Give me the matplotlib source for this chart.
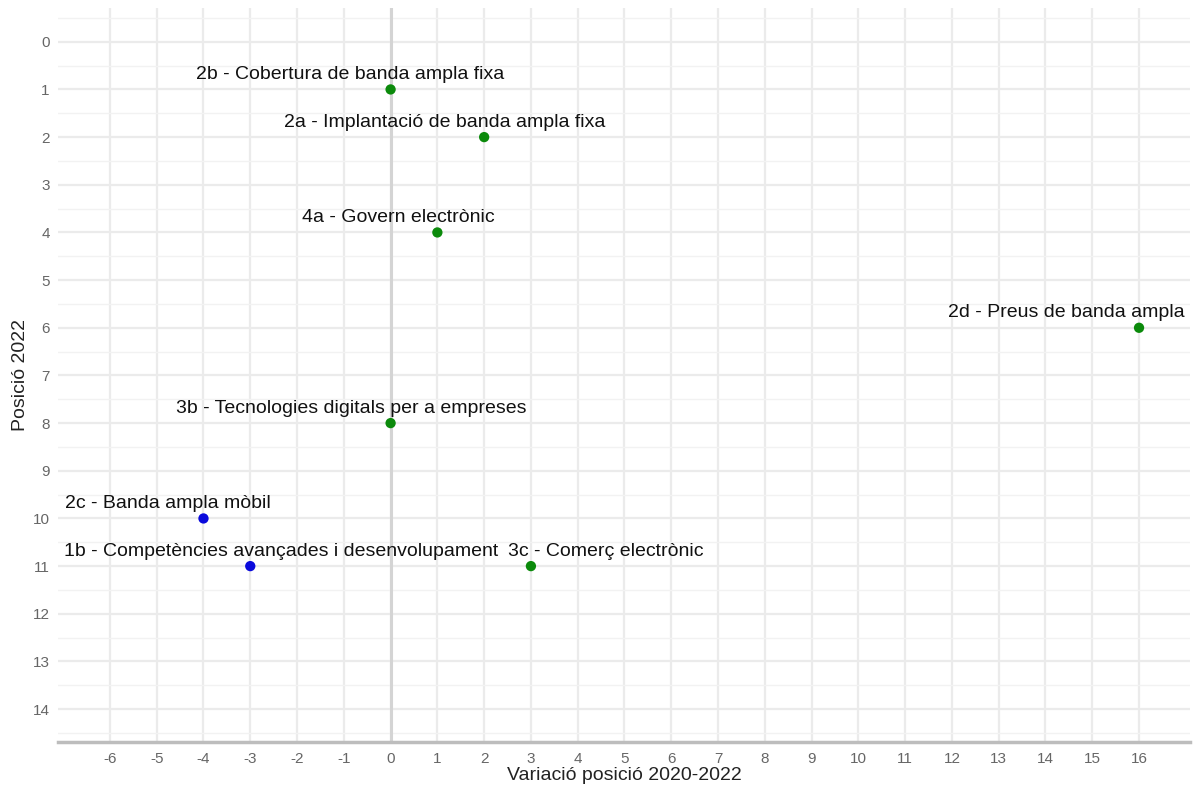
import numpy as np
import matplotlib.pyplot as plt

# data
labels = ['2b - Cobertura de banda ampla fixa',
          '2a - Implantació de banda ampla fixa',
          '4a - Govern electrònic',
          '2d - Preus de banda ampla',
          '3b - Tecnologies digitals per a empreses',
          '2c - Banda ampla mòbil',
          '1b - Competències avançades i desenvolupament',
          '3c - Comerç electrònic']
variacio = [0, 2, 1, 16, 0, -4, -3, 3]
posicio = [1, 2, 4, 6, 8, 10, 11, 11]

# label nudges (pixels, relative to point)
nudge_x = [-40, -39, -39, -73, -39, -36, 31, 75]
nudge_y = [15, 15, 15, 15, 15, 15, 15, 15]

colors = ['#0b8a0b' if v >= 0 else '#0a0adc' for v in variacio]

plt.rcParams['font.family'] = ['Liberation Sans', 'DejaVu Sans']
plt.rcParams['axes.unicode_minus'] = False

fig = plt.figure(figsize=(11.96, 7.93), dpi=100)
ax = fig.add_axes([0.0485, 0.0643, 0.9465, 0.9257])

ax.set_xlim(-7.11, 17.09)
ax.set_ylim(14.69, -0.71)

ax.set_xticks(np.arange(-6, 17))
ax.set_yticks(np.arange(0, 15))
ax.set_yticks(np.arange(-0.5, 15, 1.0), minor=True)
ax.tick_params(axis='both', which='both', length=0, colors='#666666', labelsize=11)
ax.tick_params(axis='x', pad=7)
ax.tick_params(axis='y', pad=6)

ax.grid(True, which='major', color='#ebebeb', linewidth=1.6, zorder=0)
ax.grid(True, which='minor', axis='y', color='#f2f2f2', linewidth=1.0, zorder=0)
ax.set_axisbelow(True)

for s in ['top', 'right', 'left']:
    ax.spines[s].set_visible(False)
ax.spines['bottom'].set_color('#bdbdbd')
ax.spines['bottom'].set_linewidth(2.5)

ax.axvline(0, color='#d4d4d4', linewidth=2.2, zorder=1)

ax.scatter(variacio, posicio, s=55, c=colors, zorder=3, linewidths=0)

for lab, x, y, dx, dy in zip(labels, variacio, posicio, nudge_x, nudge_y):
    ax.annotate(lab, (x, y), xytext=(dx, dy), textcoords='offset pixels',
                ha='center', va='center', fontsize=14, color='#111111', zorder=4)

ax.set_xlabel('Variació posició 2020-2022', fontsize=14, color='#222222', labelpad=1)
ax.set_ylabel('Posició 2022', fontsize=14, color='#222222', labelpad=3)

fig.savefig('out.png', dpi=100, facecolor='white')
